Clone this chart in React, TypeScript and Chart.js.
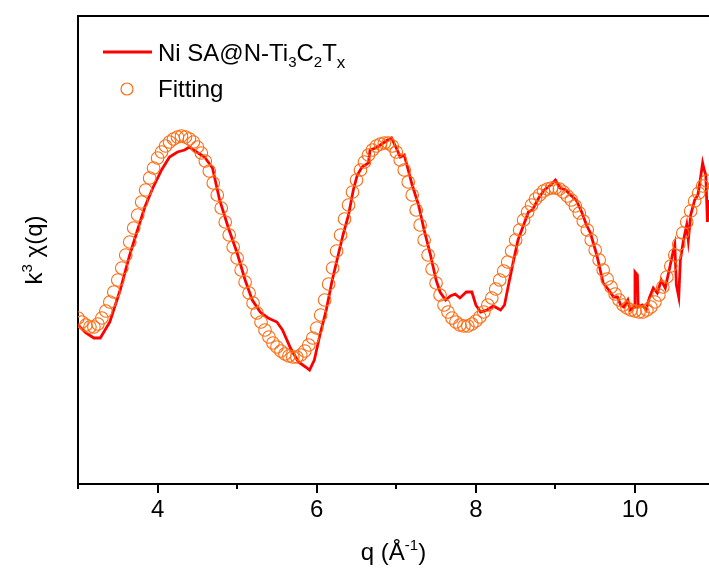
import { useEffect, useRef } from "react";
import { Chart, registerables } from "chart.js";

Chart.register(...registerables);

const X_MIN = 3.0;
const X_MAX = 10.93;
const Y_MIN = 0;
const Y_MAX = 46.8;

const majorTicks = [4, 6, 8, 10];
const minorTicks = [3, 5, 7, 9];

const dataLabel = ["Ni SA@N-Ti", "3", "C", "2", "T", "x"];
const fitLabel = "Fitting";
const xTitle = ["q (Å", "-1", ")"];
const yTitle = ["k", "3", " χ(q)"];

// Experimental data (red line)
const dataQ = [
  3.0, 3.1, 3.2, 3.28, 3.4, 3.53, 3.65, 3.74, 3.84, 3.94,
  4.05, 4.15, 4.25, 4.34, 4.4, 4.49, 4.59, 4.69, 4.78, 4.89,
  5.0, 5.1, 5.19, 5.29, 5.39, 5.5, 5.57, 5.67, 5.77, 5.86,
  5.91, 5.97, 6.04, 6.12, 6.19, 6.27, 6.33, 6.4, 6.46, 6.51,
  6.57, 6.65, 6.67, 6.74, 6.8, 6.89, 6.94, 7.0, 7.05, 7.1,
  7.15, 7.2, 7.28, 7.35, 7.43, 7.5, 7.55, 7.62, 7.68, 7.74,
  7.8, 7.88, 7.95, 8.0, 8.06, 8.14, 8.22, 8.31, 8.36, 8.41,
  8.47, 8.53, 8.6, 8.66, 8.71, 8.79, 8.86, 8.94, 9.0, 9.06,
  9.13, 9.19, 9.26, 9.33, 9.39,
  9.44, 9.52, 9.6, 9.67, 9.73, 9.78, 9.82, 9.86, 9.91, 9.94,
  9.99, 10.0, 10.03, 10.04, 10.09, 10.14, 10.18, 10.23, 10.28, 10.33,
  10.38, 10.43, 10.47, 10.5, 10.52, 10.55, 10.57, 10.61, 10.65, 10.67,
  10.7, 10.75, 10.79, 10.82, 10.85, 10.87, 10.89, 10.91, 10.93,
];
const dataY = [
  15.9, 15.1, 14.6, 14.6, 16.2, 19.4, 22.9, 25.2, 27.7, 29.6,
  31.4, 32.7, 33.2, 33.4, 33.7, 33.2, 32.7, 31.6, 28.4, 25.6,
  23.1, 20.4, 18.4, 17.2, 16.6, 16.2, 15.4, 13.6, 12.2, 11.7,
  11.4, 12.4, 14.9, 17.4, 20.2, 22.9, 24.9, 26.9, 29.4, 30.9,
  31.7, 32.1, 33.4, 33.6, 33.9, 34.4, 34.6, 33.6, 32.7, 32.9,
  31.4, 29.9, 27.9, 25.4, 22.9, 20.4, 19.2, 18.4, 18.8, 19.0,
  18.6, 19.2, 19.2, 17.9, 17.2, 17.4, 17.8, 17.4, 17.9, 19.9,
  22.2, 24.4, 25.9, 27.2, 27.4, 28.6, 29.4, 29.9, 30.4, 29.6,
  29.4, 28.9, 28.4, 27.2, 25.9,
  25.1, 22.9, 20.1, 19.4, 18.7, 18.7, 17.9, 17.7, 18.4, 17.4,
  17.7, 21.2, 20.9, 17.7, 17.9, 17.4, 18.6, 19.6, 19.1, 20.4,
  19.6, 21.4, 22.9, 23.9, 19.9, 18.7, 22.4, 24.4, 25.9, 24.4,
  26.9, 28.4, 28.9, 30.4, 32.1, 31.4, 30.9, 26.2, 28.4,
];

// Fitting curve (orange open circles)
const fitQ = [
  3.0, 3.05, 3.1, 3.15, 3.2, 3.25, 3.3, 3.35, 3.4, 3.45,
  3.5, 3.55, 3.6, 3.65, 3.7, 3.75, 3.8, 3.85, 3.9, 3.95,
  4.0, 4.05, 4.1, 4.15, 4.2, 4.25, 4.3, 4.35, 4.4, 4.45,
  4.5, 4.55, 4.6, 4.65, 4.7, 4.75, 4.8, 4.85, 4.9, 4.95,
  5.0, 5.05, 5.1, 5.15, 5.2, 5.25, 5.3, 5.35, 5.4, 5.45,
  5.5, 5.55, 5.6, 5.65, 5.7, 5.75, 5.8, 5.85, 5.9, 5.95,
  6.0, 6.05, 6.1, 6.15, 6.2, 6.25, 6.3, 6.35, 6.4, 6.45,
  6.5, 6.55, 6.6, 6.65, 6.7, 6.75, 6.8, 6.85, 6.9, 6.95,
  7.0, 7.05, 7.1, 7.15, 7.2, 7.25, 7.3, 7.35, 7.4, 7.45,
  7.5, 7.55, 7.6, 7.65, 7.7, 7.75, 7.8, 7.85, 7.9, 7.95,
  8.0, 8.05, 8.1, 8.15, 8.2, 8.25, 8.3, 8.35, 8.4, 8.45,
  8.5, 8.55, 8.6, 8.65, 8.7, 8.75, 8.8, 8.85, 8.9, 8.95,
  9.0, 9.05, 9.1, 9.15, 9.2, 9.25, 9.3, 9.35, 9.4, 9.45,
  9.5, 9.55, 9.6, 9.65, 9.7, 9.75, 9.8, 9.85, 9.9, 9.95,
  10.0, 10.05, 10.1, 10.15, 10.2, 10.25, 10.3, 10.35, 10.4, 10.45,
  10.5, 10.55, 10.6, 10.65, 10.7, 10.75, 10.8, 10.85, 10.9,
];
const fitY = [
  16.6, 16.2, 15.9, 15.7, 15.7, 16.0, 16.6, 17.3, 18.2, 19.2,
  20.4, 21.6, 22.9, 24.2, 25.6, 26.9, 28.2, 29.4, 30.6, 31.6,
  32.6, 33.2, 33.8, 34.2, 34.5, 34.7, 34.8, 34.7, 34.5, 34.2,
  33.7, 33.1, 32.3, 31.3, 30.1, 28.9, 27.6, 26.2, 24.9, 23.7,
  22.6, 21.4, 20.2, 19.1, 18.1, 17.1, 16.2, 15.4, 14.7, 14.1,
  13.7, 13.3, 13.0, 12.8, 12.7, 12.7, 12.9, 13.3, 13.9, 14.6,
  15.6, 16.9, 18.4, 20.0, 21.6, 23.3, 24.9, 26.5, 27.9, 29.2,
  30.4, 31.4, 32.2, 32.9, 33.4, 33.8, 34.0, 34.1, 34.1, 33.8,
  33.2, 32.4, 31.4, 30.2, 28.9, 27.4, 25.9, 24.4, 22.9, 21.5,
  20.1, 18.9, 17.9, 17.2, 16.6, 16.2, 15.9, 15.8, 15.8, 16.0,
  16.3, 16.7, 17.2, 17.9, 18.6, 19.5, 20.4, 21.3, 22.2, 23.3,
  24.4, 25.4, 26.4, 27.2, 27.9, 28.5, 28.9, 29.3, 29.5, 29.6,
  29.6, 29.5, 29.2, 28.8, 28.4, 27.8, 27.1, 26.3, 25.4, 24.4,
  23.4, 22.4, 21.4, 20.5, 19.7, 19.0, 18.4, 17.9, 17.6, 17.4,
  17.3, 17.2, 17.2, 17.4, 17.7, 18.2, 18.9, 19.7, 20.7, 21.8,
  22.9, 24.0, 25.1, 26.2, 27.3, 28.3, 29.1, 29.8, 30.3,
];

const FONT = "Arial, 'Liberation Sans', sans-serif";
const RED = "#ff0000";
const ORANGE = "#ff6a10";

type Part = { t: string; s: number; dy: number };

function drawParts(ctx: CanvasRenderingContext2D, x: number, y: number, parts: Part[], measureOnly = false) {
  let cx = x;
  for (const p of parts) {
    ctx.font = `${p.s}px ${FONT}`;
    if (!measureOnly) ctx.fillText(p.t, cx, y + p.dy);
    cx += ctx.measureText(p.t).width;
  }
  return cx - x;
}

const decorPlugin = {
  id: "decor",
  afterDraw(chart: any) {
    const { ctx, chartArea: a, scales } = chart;
    const x = scales.x;
    ctx.save();
    ctx.strokeStyle = "#000";
    ctx.fillStyle = "#000";
    ctx.lineWidth = 2;
    // top frame line
    ctx.beginPath();
    ctx.moveTo(a.left - 1, a.top);
    ctx.lineTo(a.right, a.top);
    ctx.stroke();
    // tick marks
    for (const v of majorTicks) {
      const px = Math.round(x.getPixelForValue(v));
      ctx.beginPath();
      ctx.moveTo(px, a.bottom);
      ctx.lineTo(px, a.bottom + 9);
      ctx.stroke();
    }
    for (const v of minorTicks) {
      const px = Math.round(x.getPixelForValue(v));
      ctx.beginPath();
      ctx.moveTo(px, a.bottom);
      ctx.lineTo(px, a.bottom + 5);
      ctx.stroke();
    }
    ctx.textBaseline = "alphabetic";
    ctx.textAlign = "left";
    // x title
    const xParts: Part[] = [
      { t: xTitle[0], s: 24, dy: 0 },
      { t: xTitle[1], s: 15, dy: -10 },
      { t: xTitle[2], s: 24, dy: 0 },
    ];
    const xw = drawParts(ctx, 0, 0, xParts, true);
    const xc = (a.left + a.right) / 2;
    drawParts(ctx, xc - xw / 2, 560, xParts);
    // y title (rotated)
    const yParts: Part[] = [
      { t: yTitle[0], s: 24, dy: 0 },
      { t: yTitle[1], s: 15, dy: -10 },
      { t: yTitle[2], s: 24, dy: 0 },
    ];
    const yw = drawParts(ctx, 0, 0, yParts, true);
    const yc = (a.top + a.bottom) / 2;
    ctx.save();
    ctx.translate(42, yc);
    ctx.rotate(-Math.PI / 2);
    drawParts(ctx, -yw / 2, 0, yParts);
    ctx.restore();
    // legend
    ctx.strokeStyle = RED;
    ctx.lineWidth = 3;
    ctx.beginPath();
    ctx.moveTo(103, 52);
    ctx.lineTo(152, 52);
    ctx.stroke();
    ctx.fillStyle = "#000";
    const lParts: Part[] = [
      { t: dataLabel[0], s: 24, dy: 0 },
      { t: dataLabel[1], s: 15, dy: 6 },
      { t: dataLabel[2], s: 24, dy: 0 },
      { t: dataLabel[3], s: 15, dy: 6 },
      { t: dataLabel[4], s: 24, dy: 0 },
      { t: dataLabel[5], s: 17, dy: 7 },
    ];
    drawParts(ctx, 158, 61, lParts);
    ctx.strokeStyle = ORANGE;
    ctx.lineWidth = 1.2;
    ctx.beginPath();
    ctx.arc(127, 89, 6, 0, Math.PI * 2);
    ctx.stroke();
    drawParts(ctx, 158, 97, [{ t: fitLabel, s: 24, dy: 0 }]);
    ctx.restore();
  },
};

export default function App() {
  const ref = useRef<HTMLCanvasElement | null>(null);
  useEffect(() => {
    document.body.style.margin = "0";
    const canvas = ref.current;
    if (!canvas) return;
    const chart = new Chart(canvas, {
      type: "scatter",
      data: {
        datasets: [
          {
            label: fitLabel,
            data: fitQ.map((q, i) => ({ x: q, y: fitY[i] })),
            showLine: false,
            pointStyle: "circle",
            pointRadius: 6.3,
            pointBorderWidth: 1.1,
            pointBorderColor: ORANGE,
            pointBackgroundColor: "rgba(0,0,0,0)",
            order: 0,
          },
          {
            label: dataLabel.join(""),
            data: dataQ.map((q, i) => ({ x: q, y: dataY[i] })),
            showLine: true,
            borderColor: RED,
            borderWidth: 2.8,
            pointRadius: 0,
            tension: 0,
            order: 1,
          },
        ],
      },
      options: {
        animation: false,
        responsive: false,
        devicePixelRatio: 1,
        layout: { autoPadding: false, padding: { top: 16, right: 0, left: 0, bottom: 0 } },
        plugins: { legend: { display: false }, tooltip: { enabled: false } },
        scales: {
          x: {
            type: "linear",
            min: X_MIN,
            max: X_MAX,
            afterFit: (s: any) => {
              s.height = 84;
              s.paddingLeft = 0;
              s.paddingRight = 0;
            },
            afterBuildTicks: (s: any) => {
              s.ticks = majorTicks.map((v) => ({ value: v }));
            },
            grid: { display: false, drawTicks: false },
            border: { display: true, color: "#000", width: 2 },
            ticks: {
              color: "#000",
              padding: 12,
              maxRotation: 0,
              autoSkip: false,
              font: { family: FONT, size: 24 },
              callback: (v: any) => String(v),
            },
          },
          y: {
            type: "linear",
            min: Y_MIN,
            max: Y_MAX,
            afterFit: (s: any) => {
              s.width = 78;
              s.paddingTop = 0;
              s.paddingBottom = 0;
            },
            grid: { display: false, drawTicks: false },
            border: { display: true, color: "#000", width: 2 },
            ticks: { display: false },
          },
        },
      },
      plugins: [decorPlugin],
    });
    return () => chart.destroy();
  }, []);
  return (
    <div style={{ width: 709, height: 568, position: "relative", background: "#fff", overflow: "hidden" }}>
      <canvas ref={ref} width={709} height={568} style={{ display: "block" }} />
    </div>
  );
}
